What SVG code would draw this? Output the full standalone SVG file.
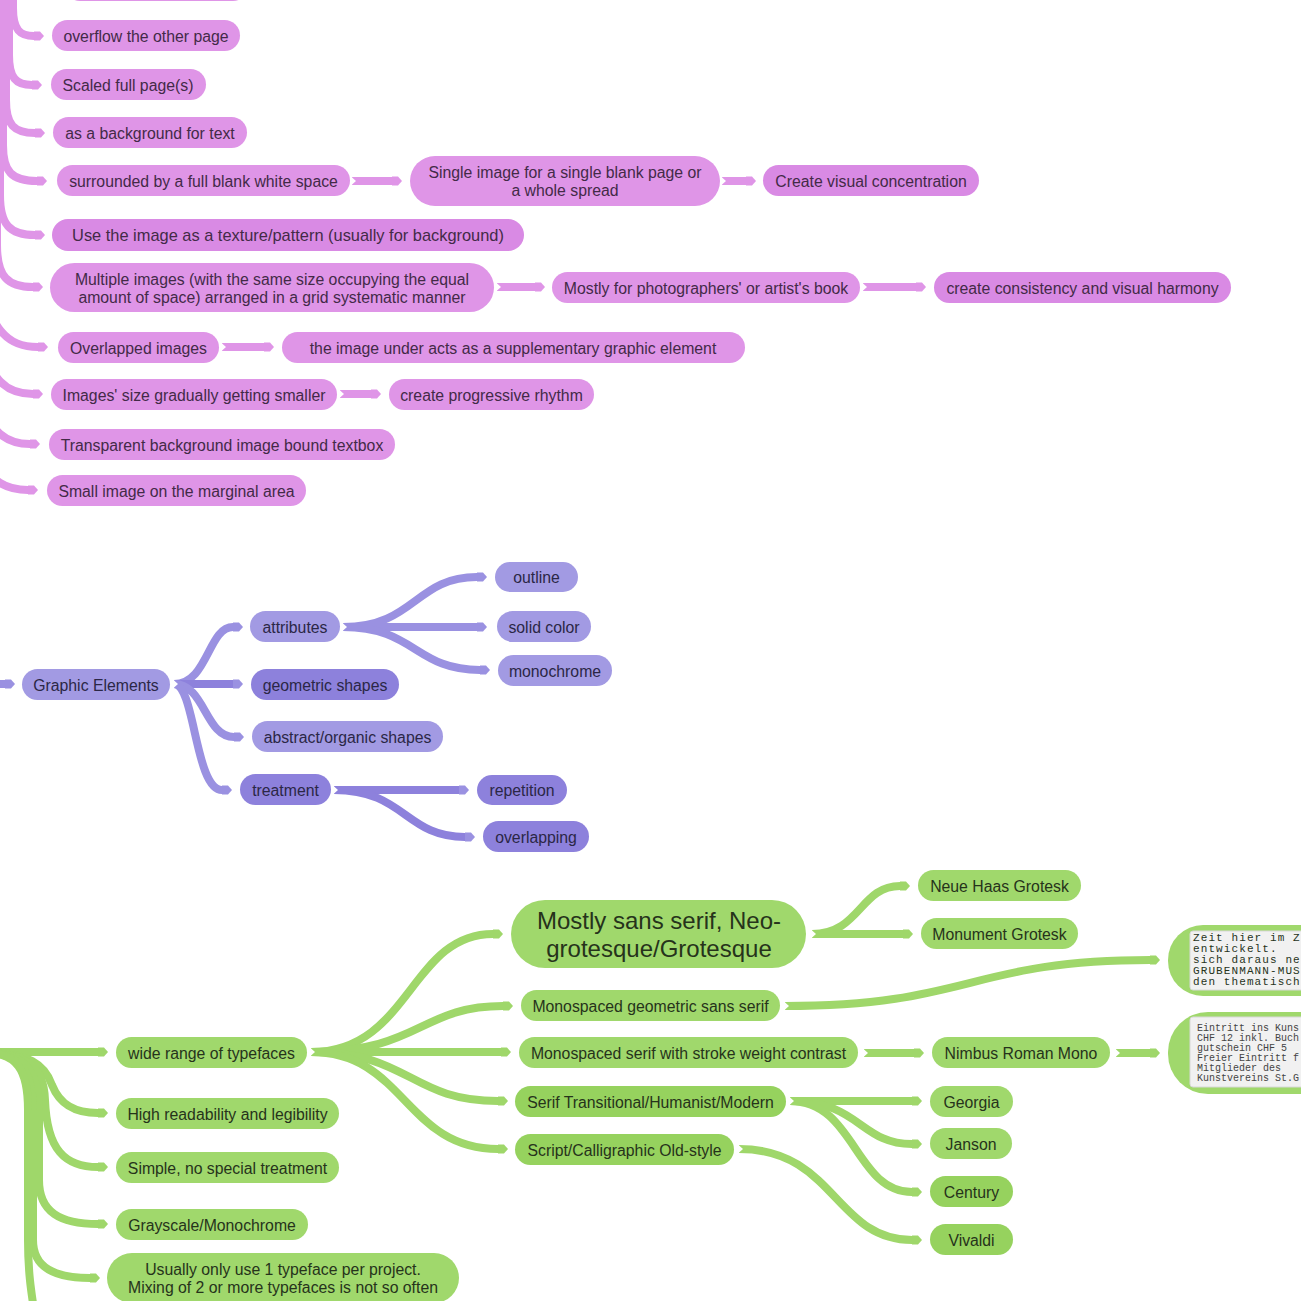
<svg xmlns="http://www.w3.org/2000/svg" width="1301" height="1301" viewBox="0 0 1301 1301">
<style>
text{font-family:"Liberation Sans",Arial,sans-serif;font-size:15.8px;text-anchor:middle}
.pk rect{fill:#df95e7}.pk2 rect{fill:#d98ae4}.pk text{fill:#432a47}
.pu rect{fill:#a29ae3}.pu2 rect{fill:#8d81dc}.pu text{fill:#2b2746}
.gr rect{fill:#a0d86c}.gr2 rect{fill:#96d25e}.gr text{fill:#26331b}
.cp path{fill:none;stroke:#df95e7;stroke-width:8;marker-end:url(#tp);marker-start:url(#nt)}
.cu path{fill:none;stroke:#9a91e1;stroke-width:8;marker-end:url(#tu);marker-start:url(#nt)}
.cg path{fill:none;stroke:#9fd76a;stroke-width:8;marker-end:url(#tg);marker-start:url(#nt)}
.mono{font-family:"Liberation Mono","DejaVu Sans Mono",monospace;text-anchor:start;fill:#666}
</style>
<defs>
<marker id="tp" markerUnits="userSpaceOnUse" markerWidth="10" markerHeight="10" refX="0" refY="5" orient="auto" overflow="visible"><path d="M0,0.5 L6,0.5 L10,5 L6,9.5 L0,9.5 Z" fill="#df95e7"/></marker>
<marker id="tu" markerUnits="userSpaceOnUse" markerWidth="10" markerHeight="10" refX="0" refY="5" orient="auto" overflow="visible"><path d="M0,0.5 L6,0.5 L10,5 L6,9.5 L0,9.5 Z" fill="#9a91e1"/></marker>
<marker id="tg" markerUnits="userSpaceOnUse" markerWidth="10" markerHeight="10" refX="0" refY="5" orient="auto" overflow="visible"><path d="M0,0.5 L6,0.5 L10,5 L6,9.5 L0,9.5 Z" fill="#9fd76a"/></marker>
<marker id="nt" markerUnits="userSpaceOnUse" markerWidth="6" markerHeight="10" refX="0" refY="5" orient="auto" overflow="visible"><path d="M-1,0.5 L4,5 L-1,9.5 Z" fill="#fff"/></marker>
<clipPath id="c1"><rect x="1190" y="931" width="111" height="60"/></clipPath>
<clipPath id="c2"><rect x="1190" y="1017" width="111" height="71"/></clipPath>
</defs>

<g id="connectors">
<g class="cp">
<path d="M13,-40 L13,8 C13,30 20,36 34,36" style="marker-start:none"/>
<path d="M9,-40 L9,55 C9,78 16,85 32,85" style="marker-start:none"/>
<path d="M6,-40 L6,100 C6,125 14,133 35,133" style="marker-start:none"/>
<path d="M3,-40 L3,145 C3,172 12,181 37,181" style="marker-start:none"/>
<path d="M0,-40 L0,195 C0,225 10,235 35,235" style="marker-start:none"/>
<path d="M-3,-40 L-3,245 C-3,277 8,287 33,287" style="marker-start:none"/>
<path d="M-25,270 C-8,330 6,347 38,347" style="marker-start:none"/>
<path d="M-25,330 C-8,382 6,394 33,394" style="marker-start:none"/>
<path d="M-25,395 C-8,433 6,444 30,444" style="marker-start:none"/>
<path d="M-25,455 C-8,482 6,490 28,490" style="marker-start:none"/>
<path d="M352,181 L392,181"/>
<path d="M722,181 L746,181"/>
<path d="M497,287 L535,287"/>
<path d="M863,287 L916,287"/>
<path d="M222,347 L264,347"/>
<path d="M340,394 L371,394"/>
</g>
<g class="cu">
<path d="M-10,684 L5,684" style="marker-start:none"/>
<path d="M174,684 C208,684 208,627 233,627"/>
<path d="M174,684 L233,684" style="stroke:#8d81dc"/>
<path d="M174,684 C205,684 205,737 234,737"/>
<path d="M174,684 C195,684 195,790 222,790"/>
<path d="M343,627 C415,627 415,577 477,577"/>
<path d="M343,627 L477,627"/>
<path d="M343,627 C415,627 415,670 480,670"/>
<path d="M334,790 L459,790" style="stroke:#8d81dc"/>
<path d="M334,790 C405,790 405,837 465,837" style="stroke:#8d81dc"/>
</g>
<g class="cg">
<path d="M-20,1052 L98,1052" style="marker-start:none"/>
<path d="M-20,1052 C30,1052 45,1065 52,1085 C60,1105 75,1113 98,1113" style="marker-start:none"/>
<path d="M-20,1052 C28,1052 44,1068 45,1100 C47,1150 65,1167 98,1167" style="marker-start:none"/>
<path d="M-20,1052 C25,1052 39,1070 39,1110 L39,1180 C39,1212 60,1224 98,1224" style="marker-start:none"/>
<path d="M-20,1052 C20,1052 33,1070 33,1110 L33,1240 C33,1268 55,1278 90,1278" style="marker-start:none"/>
<path d="M-20,1052 C18,1052 28,1070 28,1110 L28,1240 C28,1280 33,1301 37,1330" style="marker:none"/>
<path d="M311,1052 C410,1052 410,934 493,934"/>
<path d="M311,1052 C420,1052 420,1006 503,1006"/>
<path d="M311,1052 L501,1052"/>
<path d="M311,1052 C410,1052 410,1101 498,1101"/>
<path d="M311,1052 C405,1052 405,1149 498,1149"/>
<path d="M812,934 C860,934 860,886 900,886"/>
<path d="M812,934 L903,934"/>
<path d="M785,1006 C970,1006 970,960 1150,960"/>
<path d="M864,1053 L914,1053"/>
<path d="M1116,1053 L1150,1053"/>
<path d="M790,1101 L912,1101"/>
<path d="M790,1101 C860,1101 860,1144 912,1144"/>
<path d="M790,1101 C855,1101 855,1192 912,1192"/>
<path d="M739,1149 C835,1149 835,1240 912,1240"/>
</g>
</g>

<g id="n-top" class="pk"><rect x="65" y="-30" width="183" height="31" rx="15"/></g>
<g id="n-overflow" class="pk"><rect x="52" y="20" width="188" height="31" rx="15.5"/><text x="146" y="41.5">overflow the other page</text></g>
<g id="n-scaled" class="pk"><rect x="51" y="69" width="155" height="31" rx="15.5"/><text x="128" y="90.5">Scaled full page(s)</text></g>
<g id="n-bg" class="pk"><rect x="53" y="117" width="194" height="31" rx="15.5"/><text x="150" y="138.5">as a background for text</text></g>
<g id="n-surr" class="pk"><rect x="57" y="165" width="293" height="31" rx="15.5"/><text x="203.5" y="186.5">surrounded by a full blank white space</text></g>
<g id="n-single" class="pk"><rect x="410" y="156" width="310" height="50" rx="25"/><text x="565" y="177.5">Single image for a single blank page or</text><text x="565" y="195.5">a whole spread</text></g>
<g id="n-concentration" class="pk pk2"><rect x="763" y="165" width="216" height="31" rx="15.5"/><text x="871" y="186.5">Create visual concentration</text></g>
<g id="n-texture" class="pk pk2"><rect x="52" y="219" width="472" height="32" rx="16"/><text x="288" y="240.8" style="font-size:16.4px">Use the image as a texture/pattern (usually for background)</text></g>
<g id="n-multiple" class="pk"><rect x="50" y="263" width="444" height="49" rx="24.5"/><text x="272" y="284.5">Multiple images (with the same size occupying the equal</text><text x="272" y="302.5">amount of space) arranged in a grid systematic manner</text></g>
<g id="n-photographers" class="pk"><rect x="552" y="272" width="308" height="31" rx="15.5"/><text x="706" y="293.5">Mostly for photographers' or artist's book</text></g>
<g id="n-consistency" class="pk pk2"><rect x="934" y="272" width="297" height="31" rx="15.5"/><text x="1082.5" y="293.5">create consistency and visual harmony</text></g>
<g id="n-overlapped" class="pk"><rect x="58" y="332" width="161" height="31" rx="15.5"/><text x="138.5" y="353.5">Overlapped images</text></g>
<g id="n-underacts" class="pk"><rect x="282" y="332" width="463" height="31" rx="15.5"/><text x="513" y="353.5">the image under acts as a supplementary graphic element</text></g>
<g id="n-smaller" class="pk"><rect x="51" y="379" width="286" height="31" rx="15.5"/><text x="194" y="400.5">Images' size gradually getting smaller</text></g>
<g id="n-rhythm" class="pk"><rect x="389" y="379" width="205" height="31" rx="15.5"/><text x="491.5" y="400.5">create progressive rhythm</text></g>
<g id="n-transparent" class="pk"><rect x="49" y="429" width="346" height="31" rx="15.5"/><text x="222" y="450.5">Transparent background image bound textbox</text></g>
<g id="n-small" class="pk"><rect x="47" y="475" width="259" height="31" rx="15.5"/><text x="176.5" y="496.5">Small image on the marginal area</text></g>

<g id="n-graphic" class="pu"><rect x="22" y="669" width="148" height="31" rx="15.5"/><text x="96" y="690.5">Graphic Elements</text></g>
<g id="n-attributes" class="pu"><rect x="250" y="611" width="90" height="31" rx="15.5"/><text x="295" y="632.5">attributes</text></g>
<g id="n-geometric" class="pu pu2"><rect x="251" y="669" width="148" height="31" rx="15.5"/><text x="325" y="690.5">geometric shapes</text></g>
<g id="n-abstract" class="pu"><rect x="252" y="721" width="191" height="31" rx="15.5"/><text x="347.5" y="742.5">abstract/organic shapes</text></g>
<g id="n-treatment" class="pu pu2"><rect x="240" y="774" width="91" height="31" rx="15.5"/><text x="285.5" y="795.5">treatment</text></g>
<g id="n-outline" class="pu"><rect x="495" y="562" width="83" height="30" rx="15"/><text x="536.5" y="582.5">outline</text></g>
<g id="n-solid" class="pu"><rect x="497" y="611" width="94" height="31" rx="15.5"/><text x="544" y="632.5">solid color</text></g>
<g id="n-monochrome" class="pu"><rect x="498" y="655" width="114" height="31" rx="15.5"/><text x="555" y="676.5">monochrome</text></g>
<g id="n-repetition" class="pu pu2"><rect x="477" y="775" width="90" height="30" rx="15"/><text x="522" y="795.5">repetition</text></g>
<g id="n-overlapping" class="pu pu2"><rect x="483" y="821" width="106" height="31" rx="15.5"/><text x="536" y="842.5">overlapping</text></g>

<g id="n-wide" class="gr"><rect x="116" y="1037" width="191" height="31" rx="15.5"/><text x="211.5" y="1058.5">wide range of typefaces</text></g>
<g id="n-readability" class="gr"><rect x="116" y="1098" width="223" height="31" rx="15.5"/><text x="227.5" y="1119.5">High readability and legibility</text></g>
<g id="n-simple" class="gr"><rect x="116" y="1152" width="223" height="31" rx="15.5"/><text x="227.5" y="1173.5">Simple, no special treatment</text></g>
<g id="n-grayscale" class="gr"><rect x="116" y="1209" width="192" height="31" rx="15.5"/><text x="212" y="1230.5">Grayscale/Monochrome</text></g>
<g id="n-usually" class="gr"><rect x="107" y="1253" width="352" height="50" rx="25"/><text x="283" y="1274.5">Usually only use 1 typeface per project.</text><text x="283" y="1292.5">Mixing of 2 or more typefaces is not so often</text></g>
<g id="n-mostlysans" class="gr"><rect x="511" y="900" width="295" height="68" rx="34"/><text x="659" y="928.5" style="font-size:24px">Mostly sans serif, Neo-</text><text x="659" y="956.5" style="font-size:24px">grotesque/Grotesque</text></g>
<g id="n-monogeo" class="gr"><rect x="521" y="990" width="259" height="31" rx="15.5"/><text x="650.5" y="1011.5">Monospaced geometric sans serif</text></g>
<g id="n-monoserif" class="gr"><rect x="519" y="1037" width="339" height="31" rx="15.5"/><text x="688.5" y="1058.5">Monospaced serif with stroke weight contrast</text></g>
<g id="n-serif" class="gr gr2"><rect x="515" y="1086" width="271" height="31" rx="15.5"/><text x="650.5" y="1107.5">Serif Transitional/Humanist/Modern</text></g>
<g id="n-script" class="gr gr2"><rect x="515" y="1134" width="219" height="31" rx="15.5"/><text x="624.5" y="1155.5">Script/Calligraphic Old-style</text></g>
<g id="n-neue" class="gr"><rect x="918" y="870" width="163" height="31" rx="15.5"/><text x="999.5" y="891.5">Neue Haas Grotesk</text></g>
<g id="n-monument" class="gr"><rect x="921" y="918" width="157" height="31" rx="15.5"/><text x="999.5" y="939.5">Monument Grotesk</text></g>
<g id="n-nimbus" class="gr"><rect x="932" y="1037" width="178" height="31" rx="15.5"/><text x="1021" y="1058.5">Nimbus Roman Mono</text></g>
<g id="n-georgia" class="gr"><rect x="930" y="1086" width="83" height="31" rx="15.5"/><text x="971.5" y="1107.5">Georgia</text></g>
<g id="n-janson" class="gr"><rect x="930" y="1128" width="82" height="31" rx="15.5"/><text x="971" y="1149.5">Janson</text></g>
<g id="n-century" class="gr gr2"><rect x="930" y="1176" width="83" height="31" rx="15.5"/><text x="971.5" y="1197.5">Century</text></g>
<g id="n-vivaldi" class="gr gr2"><rect x="930" y="1224" width="83" height="31" rx="15.5"/><text x="971.5" y="1245.5">Vivaldi</text></g>

<g id="n-img1" class="gr">
<rect x="1168" y="925" width="220" height="71" rx="35"/>
<rect x="1190" y="931" width="160" height="59" rx="3" style="fill:#f1f1f1;stroke:#d8d8d8"/>
<g clip-path="url(#c1)">
<text class="mono" x="1193" y="941" style="font-size:11px;letter-spacing:1.1px">Zeit hier im Z</text>
<text class="mono" x="1193" y="952" style="font-size:11px;letter-spacing:1.1px">entwickelt.</text>
<text class="mono" x="1193" y="963" style="font-size:11px;letter-spacing:1.1px">sich daraus ne</text>
<text class="mono" x="1193" y="974" style="font-size:11px;letter-spacing:1.1px">GRUBENMANN-MUS</text>
<text class="mono" x="1193" y="985" style="font-size:11px;letter-spacing:1.1px">den thematisch</text>
</g>
</g>
<g id="n-img2" class="gr">
<rect x="1168" y="1012" width="220" height="82" rx="40"/>
<rect x="1190" y="1017" width="160" height="70" rx="3" style="fill:#f1f1f1;stroke:#d8d8d8"/>
<g clip-path="url(#c2)">
<text class="mono" x="1197" y="1031" style="font-size:10px;fill:#444">Eintritt ins Kuns</text>
<text class="mono" x="1197" y="1041" style="font-size:10px;fill:#444">CHF 12 inkl. Buch</text>
<text class="mono" x="1197" y="1051" style="font-size:10px;fill:#444">gutschein CHF 5</text>
<text class="mono" x="1197" y="1061" style="font-size:10px;fill:#444">Freier Eintritt f</text>
<text class="mono" x="1197" y="1071" style="font-size:10px;fill:#444">Mitglieder des</text>
<text class="mono" x="1197" y="1081" style="font-size:10px;fill:#444">Kunstvereins St.G</text>
</g>
</g>
</svg>
